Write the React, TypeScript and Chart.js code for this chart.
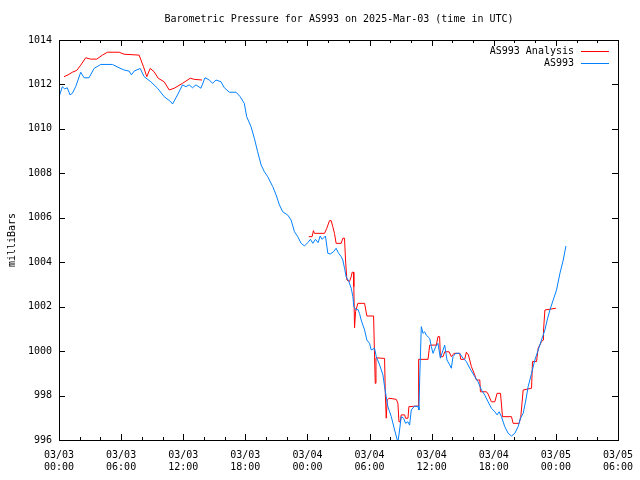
import React, { useEffect, useRef } from "react";
import { Chart, registerables } from "chart.js";

Chart.register(...registerables);

const TITLE = "Barometric Pressure for AS993 on 2025-Mar-03 (time in UTC)";
const Y_LABEL = "milliBars";
const SERIES_NAMES = ["AS993 Analysis", "AS993"];
const SERIES_COLORS = ["#ff0000", "#0080ff"];

// hours since 2025-03-03 00:00 UTC
const blueHours = [
  0.0, 0.32, 0.55, 0.8, 1.06, 1.29, 1.61, 2.1, 2.42, 2.9, 3.39, 4.03, 5.16, 5.8, 6.29, 6.77, 7.0, 7.26, 7.84, 8.23,
  8.87, 9.52, 10.16, 10.8, 10.97, 11.45, 11.93, 12.26, 12.58, 12.9, 13.23, 13.71, 14.1, 14.52, 14.84, 15.16, 15.65,
  15.97, 16.45, 17.1, 17.5, 17.9, 18.13, 18.55, 18.87, 19.19, 19.52, 19.84, 20.16, 20.65, 20.97, 21.29, 21.61, 22.1,
  22.42, 22.74, 23.06, 23.39, 23.71, 24.03, 24.29, 24.52, 24.77, 25.03, 25.23, 25.42, 25.74, 25.97, 26.2, 26.52,
  26.77, 26.97, 27.26, 27.42, 27.58, 27.74, 28.0, 28.23, 28.39, 28.48, 28.71, 28.87, 29.03, 29.19, 29.52, 29.74,
  30.0, 30.16, 30.48, 30.65, 30.97, 31.29, 31.45, 31.61, 31.77, 31.94, 32.1, 32.42, 32.74, 32.9, 33.06, 33.29, 33.48,
  33.71, 33.87, 34.03, 34.35, 34.68, 34.77, 34.84, 35.0, 35.16, 35.32, 35.48, 35.81, 35.97, 36.13, 36.39, 36.61,
  36.84, 37.1, 37.26, 37.48, 37.74, 37.9, 38.06, 38.32, 38.71, 39.03, 39.35, 39.68, 40.16, 40.48, 40.81, 41.13,
  41.45, 41.77, 42.1, 42.32, 42.52, 42.74, 43.06, 43.39, 43.71, 44.03, 44.35, 44.58, 44.84, 45.1, 45.32, 45.65,
  45.97, 46.29, 46.61, 46.94, 47.16, 47.42, 47.74, 48.06, 48.39, 48.71, 48.97,
];
const bluePressure = [
  1011.43, 1011.9, 1011.8, 1011.85, 1011.53, 1011.6, 1011.9, 1012.55, 1012.3, 1012.3, 1012.72, 1012.9, 1012.9,
  1012.75, 1012.65, 1012.6, 1012.43, 1012.6, 1012.72, 1012.35, 1012.12, 1011.83, 1011.45, 1011.22, 1011.12,
  1011.53, 1011.98, 1011.9, 1011.98, 1011.85, 1011.98, 1011.83, 1012.3, 1012.2, 1012.05, 1012.2, 1012.12, 1011.85,
  1011.65, 1011.65, 1011.45, 1011.15, 1010.55, 1010.1, 1009.58, 1008.97, 1008.38, 1008.07, 1007.85, 1007.4,
  1007.03, 1006.58, 1006.27, 1006.12, 1005.9, 1005.38, 1005.15, 1004.85, 1004.73, 1004.88, 1005.03, 1004.85,
  1005.03, 1004.88, 1005.18, 1005.03, 1005.18, 1004.4, 1004.37, 1004.47, 1004.63, 1004.43, 1004.25, 1004.1,
  1003.73, 1003.35, 1003.13, 1002.83, 1002.45, 1002.0, 1001.85, 1001.88, 1001.7, 1001.4, 1000.95, 1000.5, 1000.35,
  1000.05, 1000.13, 999.75, 999.38, 998.93, 998.4, 997.95, 997.5, 997.27, 997.05, 996.45, 995.9, 996.45, 997.05,
  996.98, 996.75, 996.82, 996.67, 997.35, 997.53, 997.5, 997.35, 998.7, 1001.1, 1000.8, 1000.87, 1000.72, 1000.57,
  1000.2, 999.9, 1000.2, 1000.35, 999.68, 1000.05, 1000.27, 999.6, 999.38, 999.23, 999.75, 999.9, 999.9, 999.68,
  999.53, 999.23, 998.85, 998.62, 998.25, 998.02, 997.72, 997.43, 997.27, 997.13, 997.27, 997.05, 996.6, 996.3,
  996.18, 996.3, 996.6, 996.98, 997.2, 997.8, 998.4, 999.0, 999.6, 1000.05, 1000.5, 1000.95, 1001.4, 1001.85,
  1002.3, 1002.75, 1003.5, 1004.1, 1004.73,
];

const redHours = [
  0.48, 0.87, 1.29, 1.71, 2.1, 2.58, 3.06, 3.65, 4.19, 4.68, 5.81, 6.29, 7.74, 8.16, 8.48, 8.81, 9.19, 9.58, 10.16,
  10.65, 11.13, 11.93, 12.68, 13.06, 13.81, 19.0, 24.13, 24.45, 24.58, 24.68, 25.65, 25.87, 26.13, 26.29, 26.45,
  26.61, 26.77, 27.26, 27.42, 27.58, 27.68, 27.81, 28.06, 28.23, 28.32, 28.45, 28.48, 28.55, 28.65, 28.87, 29.52,
  29.74, 30.39, 30.48, 30.55, 30.62, 31.45, 31.52, 31.61, 31.71, 31.87, 32.58, 32.74, 32.84, 32.97, 33.06, 33.39,
  33.48, 33.71, 33.8, 34.68, 34.74, 35.65, 35.81, 36.45, 36.61, 36.77, 36.84, 37.1, 37.26, 37.68, 37.9, 38.16,
  38.71, 38.81, 39.19, 39.35, 39.55, 39.84, 40.16, 40.32, 40.65, 40.71, 41.29, 41.45, 41.77, 42.1, 42.32, 42.65,
  42.84, 43.71, 43.87, 44.45, 44.61, 44.84, 45.65, 45.74, 46.13, 46.29, 46.61, 46.77, 46.8, 46.94, 48.0,
];
const redPressure = [
  1012.35, 1012.43, 1012.55, 1012.63, 1012.87, 1013.2, 1013.14, 1013.14, 1013.32, 1013.45, 1013.45, 1013.36,
  1013.32, 1012.8, 1012.35, 1012.72, 1012.57, 1012.28, 1012.12, 1011.75, 1011.83, 1012.05, 1012.28, 1012.23,
  1012.2, null, 1005.15, 1005.15, 1005.42, 1005.3, 1005.3, 1005.53, 1005.87, 1005.87, 1005.6, 1005.3, 1004.85,
  1004.85, 1005.08, 1005.08, 1004.1, 1003.2, 1003.13, 1003.35, 1003.55, 1003.55, 1002.9, 1001.05, 1001.78,
  1002.15, 1002.15, 1001.58, 1001.58, 999.83, 998.55, 999.7, 999.67, 998.1, 996.98, 997.8, 997.88, 997.83,
  997.65, 996.82, 996.82, 997.13, 997.13, 996.98, 996.98, 997.5, 997.53, 999.63, 999.63, 1000.27, 1000.27,
  1000.65, 1000.65, 999.75, 999.75, 999.97, 999.97, 999.75, 999.9, 999.9, 999.63, 999.63, 999.95, 999.83, 999.3,
  998.93, 998.7, 998.7, 998.17, 998.17, 998.07, 997.72, 997.72, 998.1, 998.1, 997.05, 997.05, 996.75, 996.75,
  997.05, 998.25, 998.33, 999.53, 999.53, 1000.13, 1000.42, 1000.5, 1000.9, 1001.85, 1001.93,
];

const X_MIN = 0;
const X_MAX = 54;
const X_MAJOR = 6;
const X_MINOR = 2;
const Y_MIN = 996;
const Y_MAX = 1014;
const Y_STEP = 2;
const START_DAY = 3;

const FONT = "'DejaVu Sans Mono', 'Liberation Mono', monospace";

function tickLabel(v: number): string[] {
  const day = START_DAY + Math.floor(v / 24);
  const hour = v % 24;
  const dd = String(day).padStart(2, "0");
  const hh = String(hour).padStart(2, "0");
  return ["03/" + dd, hh + ":00"];
}

const framePlugin = {
  id: "gnuFrame",
  afterDatasetsDraw(chart: any) {
    const { ctx, chartArea, scales } = chart;
    const { left, right, top, bottom } = chartArea;
    ctx.save();
    ctx.strokeStyle = "#000";
    ctx.lineWidth = 1;
    ctx.beginPath();
    for (let v = X_MIN; v <= X_MAX; v += X_MINOR) {
      const px = Math.round(scales.x.getPixelForValue(v)) + 0.5;
      const len = v % X_MAJOR === 0 ? 6 : 3;
      ctx.moveTo(px, bottom);
      ctx.lineTo(px, bottom - len);
      ctx.moveTo(px, top);
      ctx.lineTo(px, top + len);
    }
    for (let v = Y_MIN; v <= Y_MAX; v += Y_STEP) {
      const py = Math.round(scales.y.getPixelForValue(v)) + 0.5;
      ctx.moveTo(left, py);
      ctx.lineTo(left + 6, py);
      ctx.moveTo(right, py);
      ctx.lineTo(right - 6, py);
    }
    ctx.stroke();
    ctx.strokeRect(left + 0.5, top + 0.5, right - left, bottom - top);

    ctx.fillStyle = "#000";
    ctx.font = "10px " + FONT;
    ctx.textAlign = "center";
    ctx.textBaseline = "middle";
    ctx.fillText(TITLE, 339, 19);

    ctx.textAlign = "right";
    SERIES_NAMES.forEach((name, i) => {
      const y = top + 10.5 + i * 12;
      ctx.fillStyle = "#000";
      ctx.fillText(name, right - 44, y + 0.5);
      ctx.strokeStyle = SERIES_COLORS[i];
      ctx.beginPath();
      ctx.moveTo(right - 37, Math.round(y) + 0.5);
      ctx.lineTo(right - 9, Math.round(y) + 0.5);
      ctx.stroke();
    });
    ctx.restore();
  },
};

export default function App() {
  const ref = useRef<HTMLCanvasElement | null>(null);
  useEffect(() => {
    if (!ref.current) return;
    const red = redHours.map((h, i) => ({ x: h, y: redPressure[i] }));
    const blue = blueHours.map((h, i) => ({ x: h, y: bluePressure[i] }));
    const chart = new Chart(ref.current, {
      type: "line",
      data: {
        datasets: [
          {
            label: SERIES_NAMES[0],
            data: red,
            borderColor: SERIES_COLORS[0],
            borderWidth: 1,
            pointRadius: 0,
            tension: 0,
            spanGaps: false,
            order: 2,
          },
          {
            label: SERIES_NAMES[1],
            data: blue,
            borderColor: SERIES_COLORS[1],
            borderWidth: 1,
            pointRadius: 0,
            tension: 0,
            order: 1,
          },
        ],
      },
      options: {
        animation: false,
        responsive: false,
        devicePixelRatio: 1,
        layout: { padding: { left: 0, right: 22, top: 40, bottom: 0 } },
        plugins: {
          legend: { display: false },
          tooltip: { enabled: false },
          title: { display: false },
        },
        scales: {
          x: {
            type: "linear",
            min: X_MIN,
            max: X_MAX,
            grid: { drawOnChartArea: false, drawTicks: false },
            border: { display: false },
            ticks: {
              stepSize: X_MAJOR,
              autoSkip: false,
              maxRotation: 0,
              padding: 9,
              color: "#000",
              font: { family: FONT, size: 10, lineHeight: 1.2 },
              callback: (v: any) => tickLabel(Number(v)),
            },
            afterFit: (s: any) => {
              s.height = 40;
              s.paddingRight = 0;
              s.paddingLeft = 0;
            },
          },
          y: {
            min: Y_MIN,
            max: Y_MAX,
            grid: { drawOnChartArea: false, drawTicks: false },
            border: { display: false },
            ticks: {
              stepSize: Y_STEP,
              padding: 7,
              color: "#000",
              font: { family: FONT, size: 10 },
              callback: (v: any) => String(v),
            },
            title: {
              display: true,
              text: Y_LABEL,
              color: "#000",
              font: { family: FONT, size: 10, lineHeight: 1.2 },
              padding: { top: 6, bottom: 0 },
            },
            afterFit: (s: any) => {
              s.width = 59;
              s.paddingTop = 0;
              s.paddingBottom = 0;
            },
          },
        },
      },
      plugins: [framePlugin],
    });
    return () => chart.destroy();
  }, []);
  return (
    <div style={{ position: "absolute", left: 0, top: 0, width: 640, height: 480, background: "#fff" }}>
      <canvas ref={ref} width={640} height={480} />
    </div>
  );
}
